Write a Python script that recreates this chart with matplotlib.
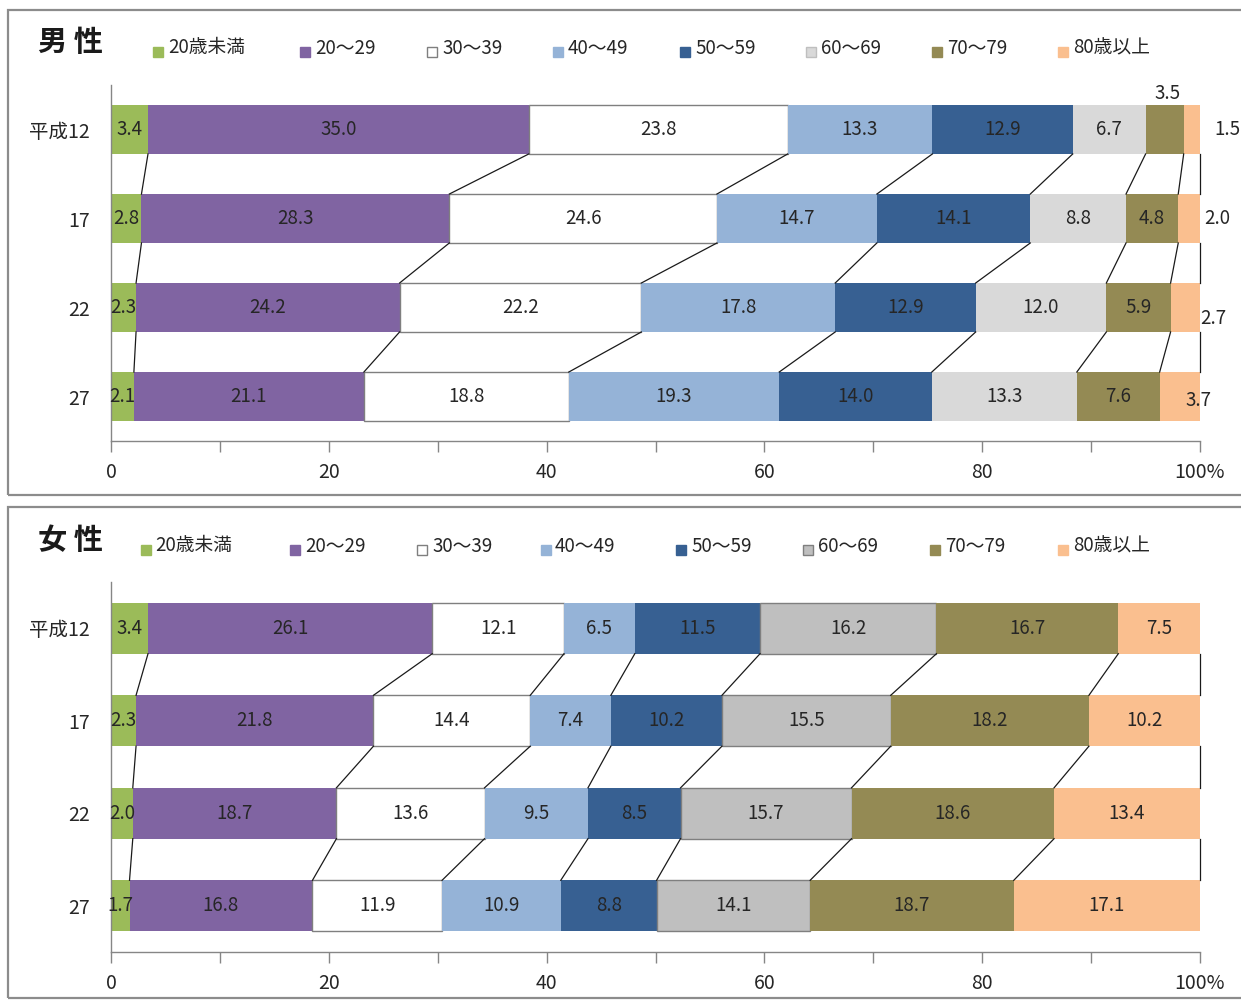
import matplotlib
matplotlib.use('Agg')
import matplotlib.pyplot as plt
from matplotlib.patches import Rectangle
import numpy as np

plt.rcParams['font.family'] = ['Noto Sans CJK JP', 'DejaVu Sans']

# ---------------- data ----------------
categories = ['20歳未満', '20～29', '30～39', '40～49', '50～59', '60～69', '70～79', '80歳以上']
years = ['平成12', '17', '22', '27']

male_h12 = [3.4, 35.0, 23.8, 13.3, 12.9, 6.7, 3.5, 1.5]
male_h17 = [2.8, 28.3, 24.6, 14.7, 14.1, 8.8, 4.8, 2.0]
male_h22 = [2.3, 24.2, 22.2, 17.8, 12.9, 12.0, 5.9, 2.7]
male_h27 = [2.1, 21.1, 18.8, 19.3, 14.0, 13.3, 7.6, 3.7]

female_h12 = [3.4, 26.1, 12.1, 6.5, 11.5, 16.2, 16.7, 7.5]
female_h17 = [2.3, 21.8, 14.4, 7.4, 10.2, 15.5, 18.2, 10.2]
female_h22 = [2.0, 18.7, 13.6, 9.5, 8.5, 15.7, 18.6, 13.4]
female_h27 = [1.7, 16.8, 11.9, 10.9, 8.8, 14.1, 18.7, 17.1]

xtick_values = [0, 20, 40, 60, 80, 100]
xtick_labels = ['0', '20', '40', '60', '80', '100%']
minor_tick_values = [10, 30, 50, 70, 90]

# ---------------- style ----------------
W, H = 1241, 1000
colors_m = ['#9BBB59', '#8064A2', '#FFFFFF', '#95B3D7', '#376092', '#D9D9D9', '#948A54', '#FABF8F']
colors_f = ['#9BBB59', '#8064A2', '#FFFFFF', '#95B3D7', '#376092', '#BFBFBF', '#948A54', '#FABF8F']
edges_m = [None, None, '#7F7F7F', None, None, None, None, None]
edges_f = [None, None, '#7F7F7F', None, None, '#7F7F7F', None, None]
TXT = '#262626'
GRID = '#868686'

fig = plt.figure(figsize=(W / 100, H / 100), dpi=100)


def fx(px):
    return px / W


def fy(py):
    return 1 - py / H


def draw_panel(box, ax_top, ax_bottom, data, colors, edges, title, title_y,
               legend_sq_x, legend_tx_x, legend_y, tweaks):
    # panel frame
    fig.add_artist(Rectangle((fx(box[0]), fy(box[3])), fx(1400), (box[3] - box[1]) / H,
                             transform=fig.transFigure, fill=False,
                             edgecolor='#8C8C8C', lw=1.6))
    fig.text(fx(70), fy(title_y), title, ha='center', va='center',
             fontsize=21, fontweight='bold', color='#1A1A1A')
    # legend
    for j, cat in enumerate(categories):
        ec = edges[j] if edges[j] else colors[j]
        if colors[j] == '#D9D9D9':
            ec = '#BFBFBF'
        fig.add_artist(Rectangle((fx(legend_sq_x[j]), fy(legend_y + 9)), 10 / W, 10 / H,
                                 transform=fig.transFigure, facecolor=colors[j],
                                 edgecolor=ec, lw=1.0))
        fig.text(fx(legend_tx_x[j]), fy(legend_y), cat, ha='left', va='center',
                 fontsize=13.5, color=TXT)

    ax = fig.add_axes([fx(111), fy(ax_bottom), fx(1200) - fx(111), (ax_bottom - ax_top) / H])
    arr = np.array(data, dtype=float)
    pct = arr / arr.sum(axis=1, keepdims=True) * 100
    cum = np.cumsum(pct, axis=1)
    left = cum - pct
    y = np.arange(len(years))
    h = 0.55
    for j, cat in enumerate(categories):
        ax.barh(y, pct[:, j], left=left[:, j], height=h, color=colors[j],
                edgecolor=edges[j] if edges[j] else 'none', linewidth=1.0 if edges[j] else 0,
                zorder=2)
        for i in range(len(years)):
            dx, dy = tweaks.get((i, j), (0, 0))
            ax.annotate(f'{arr[i, j]:.1f}', xy=(left[i, j] + pct[i, j] / 2, y[i]),
                        xytext=(dx, dy), textcoords='offset pixels',
                        ha='center', va='center', fontsize=13.5, color=TXT, zorder=5,
                        annotation_clip=False)
    # series (connector) lines
    for i in range(len(years) - 1):
        for k in range(cum.shape[1]):
            ax.plot([cum[i, k], cum[i + 1, k]], [y[i] + h / 2, y[i + 1] - h / 2],
                    color='#1A1A1A', lw=0.9, zorder=3, clip_on=False)

    ax.set_xlim(0, 100)
    ax.set_ylim(len(years) - 0.5, -0.5)
    ax.set_xticks(xtick_values)
    ax.set_xticklabels(xtick_labels)
    ax.set_xticks(minor_tick_values, minor=True)
    ax.tick_params(axis='x', which='both', direction='out', length=8, width=1.0,
                   color=GRID, labelsize=14, labelcolor=TXT, pad=7)
    ax.set_yticks(y)
    ax.set_yticklabels(years)
    ax.tick_params(axis='y', length=0, pad=15, labelsize=14, labelcolor=TXT)
    for s in ['top', 'right']:
        ax.spines[s].set_visible(False)
    for s in ['left', 'bottom']:
        ax.spines[s].set_color(GRID)
        ax.spines[s].set_linewidth(1.0)
    ax.set_facecolor('none')
    return ax


male = [male_h12, male_h17, male_h22, male_h27]
female = [female_h12, female_h17, female_h22, female_h27]

male_tweaks = {(0, 6): (3, 36), (0, 7): (36, 0), (1, 7): (28, 0), (2, 7): (28, -11), (3, 7): (19, -4)}

draw_panel((8, 10, 0, 495), 85, 441, male, colors_m, edges_m, '男 性', 42,
           [153, 300, 427, 553, 680, 806, 932, 1058],
           [168, 315, 442, 568, 695, 821, 947, 1073], 48, male_tweaks)

draw_panel((8, 507, 0, 998), 582, 952, female, colors_f, edges_f, '女 性', 540,
           [141, 290, 417, 541, 676, 803, 930, 1058],
           [155, 305, 432, 555, 691, 818, 945, 1073], 546, {})

fig.savefig('out.png', dpi=100)
